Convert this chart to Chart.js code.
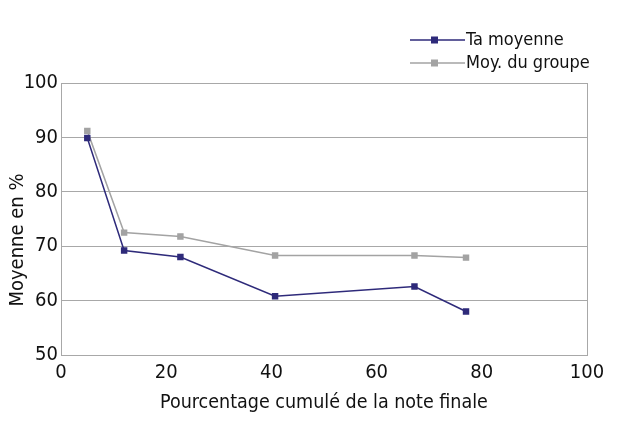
<!DOCTYPE html>
<html>
<head>
<meta charset="utf-8">
<script src="https://cdn.jsdelivr.net/npm/chart.js@4/dist/chart.umd.min.js"></script>
<style>
  html, body { margin: 0; padding: 0; background: #fff; }
  #wrap { width: 640px; height: 437px; }
</style>
</head>
<body>
<div id="wrap"><canvas id="noteChart"></canvas></div>
<script>
// Data
const xCumul = [5, 12, 22.7, 40.7, 67.2, 77];
const taMoyenne = [89.9, 69.2, 68.0, 60.8, 62.6, 58.0];
const moyGroupe = [91.2, 72.5, 71.8, 68.3, 68.3, 67.9];
const yTicks = [50, 60, 70, 80, 90, 100];
const xTicks = [0, 20, 40, 60, 80, 100];
const yTitle = 'Moyenne en %';

const FONT = '"DejaVu Sans Condensed", "Liberation Sans Narrow", sans-serif';
const NAVY = '#2e2a7a';
const GREY = '#a3a3a3';
const GRID = '#a8a8a8';

function toPoints(xs, ys) {
  return xs.map((x, i) => ({ x: x, y: ys[i] }));
}

// Box around the plot area (right side included)
const frame = {
  id: 'frame',
  beforeDatasetsDraw(chart) {
    const { ctx, chartArea: a } = chart;
    ctx.save();
    ctx.strokeStyle = GRID;
    ctx.lineWidth = 1;
    ctx.strokeRect(a.left + 0.5, a.top + 0.5, a.right - a.left, a.bottom - a.top);
    ctx.restore();
  }
};

// Legend top right, line with square marker; y title sits a bit low like the original
const extras = {
  id: 'extras',
  afterDraw(chart) {
    const ctx = chart.ctx;
    ctx.save();
    ctx.font = '18px ' + FONT;
    ctx.textBaseline = 'middle';
    chart.data.datasets.forEach((ds, i) => {
      const y = 40 + i * 23;
      ctx.strokeStyle = ds.borderColor;
      ctx.lineWidth = 1.5;
      ctx.beginPath();
      ctx.moveTo(410, y);
      ctx.lineTo(465, y);
      ctx.stroke();
      ctx.fillStyle = ds.backgroundColor;
      ctx.fillRect(431, y - 3.5, 7, 7);
      ctx.fillStyle = '#111';
      ctx.fillText(ds.label, 466, y);
    });

    ctx.translate(18, 240);
    ctx.rotate(-Math.PI / 2);
    ctx.font = '20px ' + FONT;
    ctx.textAlign = 'center';
    ctx.fillText(yTitle, 0, 0);
    ctx.restore();
  }
};

const ctx = document.getElementById('noteChart').getContext('2d');
const noteChart = new Chart(ctx, {
  type: 'line',
  data: {
    datasets: [
      {
        label: 'Ta moyenne',
        data: toPoints(xCumul, taMoyenne),
        borderColor: NAVY,
        backgroundColor: NAVY,
        borderWidth: 1.5,
        pointStyle: 'rect',
        pointRadius: 3.5,
        fill: false,
      },
      {
        label: 'Moy. du groupe',
        data: toPoints(xCumul, moyGroupe),
        borderColor: GREY,
        backgroundColor: GREY,
        borderWidth: 1.5,
        pointStyle: 'rect',
        pointRadius: 3.5,
        fill: false,
      },
    ],
  },
  options: {
    responsive: true,
    maintainAspectRatio: false,
    animation: false,
    layout: { padding: { top: 83, right: 53, bottom: 0, left: 0 } },
    plugins: {
      legend: { display: false },
      tooltip: { enabled: false },
    },
    scales: {
      x: {
        type: 'linear',
        min: 0,
        max: 100,
        afterBuildTicks: (s) => { s.ticks = xTicks.map(v => ({ value: v })); },
        afterFit: (s) => { s.height = 82; },
        grid: { display: false, drawTicks: false },
        border: { display: false },
        ticks: { color: '#111', font: { family: FONT, size: 20 }, padding: 6, maxRotation: 0 },
        title: {
          display: true,
          text: 'Pourcentage cumulé de la note finale',
          color: '#111',
          font: { family: FONT, size: 19.5 },
          padding: { top: 4, bottom: 22 },
        },
      },
      y: {
        min: 50,
        max: 100,
        afterBuildTicks: (s) => { s.ticks = yTicks.map(v => ({ value: v })); },
        afterFit: (s) => { s.width = 61; },
        grid: { color: GRID, drawTicks: false },
        border: { display: false },
        ticks: { color: '#111', font: { family: FONT, size: 20 }, padding: 3 },
      },
    },
  },
  plugins: [frame, extras],
});
</script>
</body>
</html>
